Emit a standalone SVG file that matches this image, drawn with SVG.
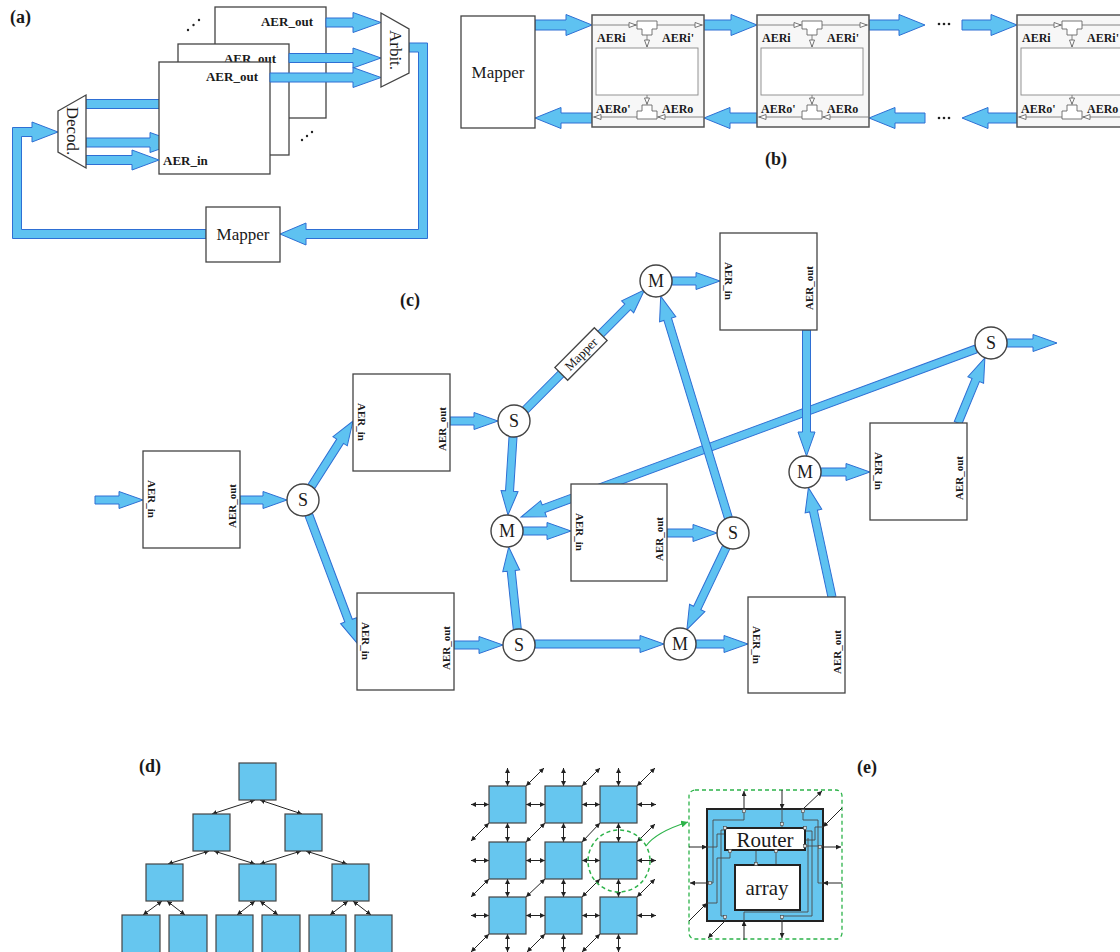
<svg xmlns="http://www.w3.org/2000/svg" width="1120" height="952" viewBox="0 0 1120 952">
<style>
text{font-family:"Liberation Serif","Times New Roman",serif;fill:#1a1a1a}
.pl{font-weight:bold;font-size:18px}
.box{fill:#fff;stroke:#444;stroke-width:1.3}
.blue{fill:#5ec2f1;stroke:#2e6fd4;stroke-width:1}
.la{font-weight:bold;font-size:13px}
.lc{font-weight:bold;font-size:11px;dominant-baseline:central;text-anchor:middle}
.lb{font-weight:bold;font-size:12px}
.big{font-size:17px}
.nd{fill:#fff;stroke:#444;stroke-width:1.4}
.nt{font-size:18px;text-anchor:middle}
.sq{fill:#66c6ef;stroke:#444;stroke-width:1.2}
.ar{stroke:#222;stroke-width:1;fill:none;marker-start:url(#ah);marker-end:url(#ah)}
.ae{stroke:#222;stroke-width:1;fill:none;marker-end:url(#ah)}
.w{stroke:#777;stroke-width:0.9;fill:none}
.hh{fill:#fff;stroke:#666;stroke-width:0.9}
.cell{fill:#f7f7f7;stroke:#555;stroke-width:1.5}
.wire{stroke:#4a4a4a;stroke-width:0.9;fill:none}
.port{fill:#ddd;stroke:#444;stroke-width:0.6}
</style>
<defs>
<marker id="ah" viewBox="0 0 6 6" refX="6" refY="3" markerWidth="5" markerHeight="5" orient="auto-start-reverse" markerUnits="userSpaceOnUse"><path d="M0,0 L6,3 L0,6 Z" fill="#222"/></marker>
<marker id="gh" viewBox="0 0 6 6" refX="6" refY="3" markerWidth="7" markerHeight="7" orient="auto" markerUnits="userSpaceOnUse"><path d="M0,0 L6,3 L0,6 Z" fill="#2db34a"/></marker>
</defs>

<!-- ===== (a) ===== -->
<g id="panel-a">
<text class="pl" x="10" y="23">(a)</text>
<g id="a-box-back"><rect class="box" x="215" y="7" width="111" height="111"/><text class="la" x="313" y="26" text-anchor="end">AER_out</text></g>
<g id="a-conn1"><path class="blue" transform="translate(326,22.5)" d="M0,-4.5H27V-10L55,0L27,10V4.5H0Z"/></g>
<g id="a-decod-top"><rect class="blue" x="86" y="99.5" width="90" height="9"/></g>
<g id="a-decod-mid"><path class="blue" transform="translate(86,142.5)" d="M0,-4.5H64V-10L92,0L64,10V4.5H0Z"/></g>
<g id="a-box-mid"><rect class="box" x="178" y="44" width="111" height="111"/><text class="la" x="276" y="63" text-anchor="end">AER_out</text></g>
<g id="a-conn2"><path class="blue" transform="translate(289,58)" d="M0,-4.5H64V-10L92,0L64,10V4.5H0Z"/></g>
<g id="a-box-front"><rect class="box" x="159" y="62" width="111" height="112"/><text class="la" x="258" y="81" text-anchor="end">AER_out</text><text class="la" x="163" y="165">AER_in</text></g>
<g id="a-conn3"><path class="blue" transform="translate(270,77.5)" d="M0,-4.5H83V-10L111,0L83,10V4.5H0Z"/></g>
<g id="a-decod-bot"><path class="blue" transform="translate(86,160)" d="M0,-4.5H46V-10L73,0L46,10V4.5H0Z"/></g>
<g id="a-loop">
<path class="blue" d="M409,43 H427.5 V238.5 H306 V245 L280,234 L306,223 V229.5 H418.5 V52 H409 Z"/>
<path class="blue" d="M206,229.5 H21.5 V136.5 H32 V142 L58,132 L32,122 V127.5 H12.5 V238.5 H206 Z"/>
</g>
<g id="a-arbit"><path class="box" d="M381,13 L409,29 L409,73 L381,87 Z"/><text class="big" transform="translate(395,50) rotate(90)" text-anchor="middle" dominant-baseline="central">Arbit.</text></g>
<g id="a-decod"><path class="box" d="M58,111 L86,95 L86,168 L58,152 Z"/><text class="big" transform="translate(72,131) rotate(90)" text-anchor="middle" dominant-baseline="central">Decod.</text></g>
<g id="a-mapper"><rect class="box" x="206" y="207" width="74" height="55"/><text class="big" x="243" y="240" text-anchor="middle">Mapper</text></g>
<g id="a-dots" fill="#222"><circle cx="188" cy="30" r="1.2"/><circle cx="193.5" cy="25" r="1.2"/><circle cx="199" cy="20" r="1.2"/><circle cx="302" cy="140" r="1.2"/><circle cx="307" cy="136" r="1.2"/><circle cx="312" cy="132" r="1.2"/></g>
</g>

<!-- ===== (b) ===== -->
<g id="panel-b">
<g id="b-connectors">
<path class="blue" transform="translate(535,25)" d="M0,-5H31V-10.5L57,0L31,10.5V5H0Z"/>
<path class="blue" transform="translate(704,25)" d="M0,-5H27V-10.5L53,0L27,10.5V5H0Z"/>
<path class="blue" transform="translate(869,25)" d="M0,-5H30V-10.5L56,0L30,10.5V5H0Z"/>
<path class="blue" transform="translate(962,25)" d="M0,-5H29V-10.5L55,0L29,10.5V5H0Z"/>
<path class="blue" transform="translate(592,118) rotate(180)" d="M0,-5H31V-10.5L57,0L31,10.5V5H0Z"/>
<path class="blue" transform="translate(757,118) rotate(180)" d="M0,-5H27V-10.5L53,0L27,10.5V5H0Z"/>
<path class="blue" transform="translate(925,118) rotate(180)" d="M0,-5H30V-10.5L56,0L30,10.5V5H0Z"/>
<path class="blue" transform="translate(1017,118) rotate(180)" d="M0,-5H29V-10.5L55,0L29,10.5V5H0Z"/>
</g>
<g id="b-dots" fill="#222"><circle cx="939" cy="24" r="1.3"/><circle cx="944" cy="24" r="1.3"/><circle cx="949" cy="24" r="1.3"/><circle cx="939" cy="118" r="1.3"/><circle cx="944" cy="118" r="1.3"/><circle cx="949" cy="118" r="1.3"/></g>
<g id="b-mapper"><rect class="box" x="461" y="16" width="74" height="112"/><text class="big" x="498" y="78" text-anchor="middle">Mapper</text></g>
<g id="b-cell1" transform="translate(592,0)">
<rect class="cell" x="0" y="15" width="112" height="112"/>
<line class="w" x1="0" y1="25" x2="112" y2="25"/><line class="w" x1="0" y1="117" x2="112" y2="117"/>
<rect x="4" y="48" width="102" height="47" fill="#fff" stroke="#888" stroke-width="0.9"/>
<path class="hh" d="M45,21 H65 V29 H60 V35 H50 V29 H45 Z"/><line class="w" x1="55" y1="35" x2="55" y2="47"/><path class="hh" d="M52.5,40 L57.5,40 L55,47 Z"/>
<path class="hh" d="M50,105 H60 V111 H65 V119 H45 V111 H50 Z"/><line class="w" x1="55" y1="95" x2="55" y2="105"/><path class="hh" d="M52.5,98 L57.5,98 L55,104 Z"/>
<path class="hh" d="M37,22.5 L37,27.5 L44,25 Z"/><path class="hh" d="M103,22.5 L103,27.5 L110,25 Z"/>
<path class="hh" d="M9,114.5 L9,119.5 L2,117 Z"/><path class="hh" d="M73,114.5 L73,119.5 L66,117 Z"/>
<text class="lb" x="5" y="42">AERi</text><text class="lb" x="70" y="42">AERi'</text><text class="lb" x="4" y="113">AERo'</text><text class="lb" x="70" y="113">AERo</text>
</g>
<g id="b-cell2" transform="translate(757,0)">
<rect class="cell" x="0" y="15" width="112" height="112"/>
<line class="w" x1="0" y1="25" x2="112" y2="25"/><line class="w" x1="0" y1="117" x2="112" y2="117"/>
<rect x="4" y="48" width="102" height="47" fill="#fff" stroke="#888" stroke-width="0.9"/>
<path class="hh" d="M45,21 H65 V29 H60 V35 H50 V29 H45 Z"/><line class="w" x1="55" y1="35" x2="55" y2="47"/><path class="hh" d="M52.5,40 L57.5,40 L55,47 Z"/>
<path class="hh" d="M50,105 H60 V111 H65 V119 H45 V111 H50 Z"/><line class="w" x1="55" y1="95" x2="55" y2="105"/><path class="hh" d="M52.5,98 L57.5,98 L55,104 Z"/>
<path class="hh" d="M37,22.5 L37,27.5 L44,25 Z"/><path class="hh" d="M103,22.5 L103,27.5 L110,25 Z"/>
<path class="hh" d="M9,114.5 L9,119.5 L2,117 Z"/><path class="hh" d="M73,114.5 L73,119.5 L66,117 Z"/>
<text class="lb" x="5" y="42">AERi</text><text class="lb" x="70" y="42">AERi'</text><text class="lb" x="4" y="113">AERo'</text><text class="lb" x="70" y="113">AERo</text>
</g>
<g id="b-cell3" transform="translate(1017,0)">
<rect class="cell" x="0" y="15" width="112" height="112"/>
<line class="w" x1="0" y1="25" x2="112" y2="25"/><line class="w" x1="0" y1="117" x2="112" y2="117"/>
<rect x="4" y="48" width="102" height="47" fill="#fff" stroke="#888" stroke-width="0.9"/>
<path class="hh" d="M45,21 H65 V29 H60 V35 H50 V29 H45 Z"/><line class="w" x1="55" y1="35" x2="55" y2="47"/><path class="hh" d="M52.5,40 L57.5,40 L55,47 Z"/>
<path class="hh" d="M50,105 H60 V111 H65 V119 H45 V111 H50 Z"/><line class="w" x1="55" y1="95" x2="55" y2="105"/><path class="hh" d="M52.5,98 L57.5,98 L55,104 Z"/>
<path class="hh" d="M37,22.5 L37,27.5 L44,25 Z"/>
<path class="hh" d="M9,114.5 L9,119.5 L2,117 Z"/><path class="hh" d="M73,114.5 L73,119.5 L66,117 Z"/>
<text class="lb" x="5" y="42">AERi</text><text class="lb" x="70" y="42">AERi'</text><text class="lb" x="4" y="113">AERo'</text><text class="lb" x="70" y="113">AERo</text>
</g>
<text class="pl" x="765" y="165">(b)</text>
</g>

<!-- ===== (c) ===== -->
<g id="panel-c">
<text class="pl" x="400" y="306">(c)</text>
<g id="c-connectors">
<path class="blue" transform="translate(976,349) rotate(159.73)" d="M0,-4H461V-8.5L485,0L461,8.5V4H0Z"/>
<path class="blue" transform="translate(95,500)" d="M0,-4H24V-8.5L48,0L24,8.5V4H0Z"/>
<path class="blue" transform="translate(240,500)" d="M0,-4H23V-8.5L47,0L23,8.5V4H0Z"/>
<path class="blue" transform="translate(311.4,486.4) rotate(-57.54)" d="M0,-4H53.5V-8.5L77.5,0L53.5,8.5V4H0Z"/>
<path class="blue" transform="translate(308.8,514.9) rotate(69.4)" d="M0,-4H113V-8.5L137,0L113,8.5V4H0Z"/>
<path class="blue" transform="translate(450,421)" d="M0,-4H24V-8.5L48,0L24,8.5V4H0Z"/>
<path class="blue" transform="translate(454,645)" d="M0,-4H25V-8.5L49,0L25,8.5V4H0Z"/>
<path class="blue" transform="translate(525.4,409.8) rotate(-45.2)" d="M0,-4H145.1V-8.5L169.1,0L145.1,8.5V4H0Z"/>
<path class="blue" transform="translate(672,281)" d="M0,-4H24V-8.5L48,0L24,8.5V4H0Z"/>
<path class="blue" transform="translate(513,437) rotate(93.67)" d="M0,-4H54.2V-8.5L78.2,0L54.2,8.5V4H0Z"/>
<path class="blue" transform="translate(517.3,629.1) rotate(-95.97)" d="M0,-4H58.6V-8.5L82.6,0L58.6,8.5V4H0Z"/>
<path class="blue" transform="translate(535,644)" d="M0,-4H105V-8.5L129,0L105,8.5V4H0Z"/>
<path class="blue" transform="translate(523,531)" d="M0,-4H24V-8.5L48,0L24,8.5V4H0Z"/>
<path class="blue" transform="translate(667,533)" d="M0,-4H26V-8.5L50,0L26,8.5V4H0Z"/>
<path class="blue" transform="translate(728.3,517.7) rotate(-106.98)" d="M0,-4H207.5V-8.5L231.5,0L207.5,8.5V4H0Z"/>
<path class="blue" transform="translate(726.1,547.4) rotate(115.5)" d="M0,-4H67.1V-8.5L91.1,0L67.1,8.5V4H0Z"/>
<path class="blue" transform="translate(696,644)" d="M0,-4H28V-8.5L52,0L28,8.5V4H0Z"/>
<path class="blue" transform="translate(806.5,330) rotate(90)" d="M0,-4H102V-8.5L126,0L102,8.5V4H0Z"/>
<path class="blue" transform="translate(832,597) rotate(-102.17)" d="M0,-4H87.9V-8.5L111.9,0L87.9,8.5V4H0Z"/>
<path class="blue" transform="translate(821,472)" d="M0,-4H25V-8.5L49,0L25,8.5V4H0Z"/>
<path class="blue" transform="translate(958,423) rotate(-67.58)" d="M0,-4H46.5V-8.5L70.5,0L46.5,8.5V4H0Z"/>
<path class="blue" transform="translate(1007,343)" d="M0,-4H26V-8.5L50,0L26,8.5V4H0Z"/>
</g>
<g id="c-mapper" transform="translate(581,354) rotate(-45.2)"><rect class="box" x="-28" y="-9" width="56" height="18"/><text x="0" y="4.5" font-size="13" text-anchor="middle">Mapper</text></g>
<g id="c-boxA"><rect class="box" x="143" y="451" width="97" height="97"/><text class="lc" transform="translate(152,499) rotate(90)">AER_in</text><text class="lc" transform="translate(232,506) rotate(-90)">AER_out</text></g>
<g id="c-boxB"><rect class="box" x="353" y="374" width="97" height="97"/><text class="lc" transform="translate(362,422) rotate(90)">AER_in</text><text class="lc" transform="translate(442,429) rotate(-90)">AER_out</text></g>
<g id="c-boxC"><rect class="box" x="357" y="593" width="97" height="97"/><text class="lc" transform="translate(366,641) rotate(90)">AER_in</text><text class="lc" transform="translate(446,648) rotate(-90)">AER_out</text></g>
<g id="c-boxD"><rect class="box" x="720" y="233" width="97" height="97"/><text class="lc" transform="translate(729,281) rotate(90)">AER_in</text><text class="lc" transform="translate(809,288) rotate(-90)">AER_out</text></g>
<g id="c-boxE"><rect class="box" x="571" y="484" width="96" height="97"/><text class="lc" transform="translate(580,532) rotate(90)">AER_in</text><text class="lc" transform="translate(659,539) rotate(-90)">AER_out</text></g>
<g id="c-boxF"><rect class="box" x="870" y="423" width="97" height="97"/><text class="lc" transform="translate(879,471) rotate(90)">AER_in</text><text class="lc" transform="translate(959,478) rotate(-90)">AER_out</text></g>
<g id="c-boxG"><rect class="box" x="748" y="597" width="97" height="96"/><text class="lc" transform="translate(757,645) rotate(90)">AER_in</text><text class="lc" transform="translate(837,652) rotate(-90)">AER_out</text></g>
<g id="c-S1"><circle class="nd" cx="303" cy="500" r="16"/><text class="nt" x="303" y="506">S</text></g>
<g id="c-S2"><circle class="nd" cx="514" cy="421" r="16"/><text class="nt" x="514" y="427">S</text></g>
<g id="c-Mtop"><circle class="nd" cx="656" cy="281" r="16"/><text class="nt" x="656" y="287">M</text></g>
<g id="c-Mleft"><circle class="nd" cx="507" cy="531" r="16"/><text class="nt" x="507" y="537">M</text></g>
<g id="c-Smid"><circle class="nd" cx="733" cy="533" r="16"/><text class="nt" x="733" y="539">S</text></g>
<g id="c-Mright"><circle class="nd" cx="805" cy="472" r="16"/><text class="nt" x="805" y="478">M</text></g>
<g id="c-Sfar"><circle class="nd" cx="991" cy="343" r="16"/><text class="nt" x="991" y="349">S</text></g>
<g id="c-Sbot"><circle class="nd" cx="519" cy="645" r="16"/><text class="nt" x="519" y="651">S</text></g>
<g id="c-Mbot"><circle class="nd" cx="680" cy="644" r="16"/><text class="nt" x="680" y="650">M</text></g>
</g>

<!-- ===== (d) ===== -->
<g id="panel-d">
<text class="pl" x="139" y="772">(d)</text>
<g id="d-connectors">
<line class="ar" x1="255" y1="800" x2="212" y2="814"/><line class="ar" x1="260" y1="800" x2="302" y2="814"/>
<line class="ar" x1="209" y1="851" x2="168" y2="864"/><line class="ar" x1="214" y1="851" x2="255" y2="864"/>
<line class="ar" x1="301" y1="851" x2="260" y2="864"/><line class="ar" x1="306" y1="851" x2="347" y2="864"/>
<line class="ar" x1="162" y1="901" x2="143" y2="915"/><line class="ar" x1="167" y1="901" x2="185" y2="915"/>
<line class="ar" x1="255" y1="901" x2="237" y2="915"/><line class="ar" x1="260" y1="901" x2="278" y2="915"/>
<line class="ar" x1="348" y1="901" x2="330" y2="915"/><line class="ar" x1="353" y1="901" x2="371" y2="915"/>
</g>
<g id="d-n0"><rect class="sq" x="239" y="763" width="37" height="37"/></g>
<g id="d-n1a"><rect class="sq" x="193" y="814" width="37" height="37"/></g>
<g id="d-n1b"><rect class="sq" x="285" y="814" width="37" height="37"/></g>
<g id="d-n2a"><rect class="sq" x="146" y="864" width="37" height="37"/></g>
<g id="d-n2b"><rect class="sq" x="239" y="864" width="37" height="37"/></g>
<g id="d-n2c"><rect class="sq" x="332" y="864" width="37" height="37"/></g>
<g id="d-n3a"><rect class="sq" x="122" y="915" width="38" height="40"/></g>
<g id="d-n3b"><rect class="sq" x="169" y="915" width="38" height="40"/></g>
<g id="d-n3c"><rect class="sq" x="216" y="915" width="37" height="40"/></g>
<g id="d-n3d"><rect class="sq" x="262" y="915" width="38" height="40"/></g>
<g id="d-n3e"><rect class="sq" x="309" y="915" width="37" height="40"/></g>
<g id="d-n3f"><rect class="sq" x="355" y="915" width="37" height="40"/></g>
</g>

<!-- ===== (e) grid ===== -->
<g id="panel-e">
<g id="e-connectors">
<line class="ar" x1="507.5" y1="786" x2="507.5" y2="768"/><line class="ar" x1="507.5" y1="823" x2="507.5" y2="842"/><line class="ar" x1="507.5" y1="879" x2="507.5" y2="897"/><line class="ar" x1="507.5" y1="934" x2="507.5" y2="952"/>
<line class="ar" x1="563.5" y1="786" x2="563.5" y2="768"/><line class="ar" x1="563.5" y1="823" x2="563.5" y2="842"/><line class="ar" x1="563.5" y1="879" x2="563.5" y2="897"/><line class="ar" x1="563.5" y1="934" x2="563.5" y2="952"/>
<line class="ar" x1="618.5" y1="786" x2="618.5" y2="768"/><line class="ar" x1="618.5" y1="823" x2="618.5" y2="842"/><line class="ar" x1="618.5" y1="879" x2="618.5" y2="897"/><line class="ar" x1="618.5" y1="934" x2="618.5" y2="952"/>
<line class="ar" x1="489" y1="804.5" x2="471" y2="804.5"/><line class="ar" x1="526" y1="804.5" x2="545" y2="804.5"/><line class="ar" x1="582" y1="804.5" x2="600" y2="804.5"/><line class="ar" x1="637" y1="804.5" x2="656" y2="804.5"/>
<line class="ar" x1="489" y1="860.5" x2="471" y2="860.5"/><line class="ar" x1="526" y1="860.5" x2="545" y2="860.5"/><line class="ar" x1="582" y1="860.5" x2="600" y2="860.5"/><line class="ar" x1="637" y1="860.5" x2="656" y2="860.5"/>
<line class="ar" x1="489" y1="915.5" x2="471" y2="915.5"/><line class="ar" x1="526" y1="915.5" x2="545" y2="915.5"/><line class="ar" x1="582" y1="915.5" x2="600" y2="915.5"/><line class="ar" x1="637" y1="915.5" x2="656" y2="915.5"/>
<line class="ar" x1="526" y1="786" x2="544" y2="768"/><line class="ar" x1="582" y1="786" x2="600" y2="768"/><line class="ar" x1="637" y1="786" x2="655" y2="768"/>
<line class="ar" x1="545" y1="823" x2="526" y2="842"/><line class="ar" x1="600" y1="823" x2="582" y2="842"/><line class="ar" x1="545" y1="879" x2="526" y2="897"/><line class="ar" x1="600" y1="879" x2="582" y2="897"/>
<line class="ar" x1="489" y1="823" x2="471" y2="841"/><line class="ar" x1="489" y1="879" x2="471" y2="897"/><line class="ar" x1="489" y1="934" x2="471" y2="952"/>
<line class="ar" x1="637" y1="842" x2="655" y2="824"/><line class="ar" x1="637" y1="897" x2="655" y2="879"/>
<line class="ar" x1="545" y1="934" x2="527" y2="952"/><line class="ar" x1="600" y1="934" x2="582" y2="952"/>
</g>
<g id="e-g00"><rect class="sq" x="489" y="786" width="37" height="37"/></g>
<g id="e-g01"><rect class="sq" x="545" y="786" width="37" height="37"/></g>
<g id="e-g02"><rect class="sq" x="600" y="786" width="37" height="37"/></g>
<g id="e-g10"><rect class="sq" x="489" y="842" width="37" height="37"/></g>
<g id="e-g11"><rect class="sq" x="545" y="842" width="37" height="37"/></g>
<g id="e-g12"><rect class="sq" x="600" y="842" width="37" height="37"/></g>
<g id="e-g20"><rect class="sq" x="489" y="897" width="37" height="37"/></g>
<g id="e-g21"><rect class="sq" x="545" y="897" width="37" height="37"/></g>
<g id="e-g22"><rect class="sq" x="600" y="897" width="37" height="37"/></g>
<g id="e-zoom"><circle cx="619" cy="861" r="31" fill="none" stroke="#2db34a" stroke-width="1.5" stroke-dasharray="4,3"/><path d="M646,846 Q656,832 688,822" fill="none" stroke="#2db34a" stroke-width="1.2" marker-end="url(#gh)"/></g>

<!-- detail -->
<g id="e-detail">
<rect x="689" y="790" width="153" height="149" rx="6" fill="none" stroke="#2db34a" stroke-width="1.3" stroke-dasharray="4,3"/>
<line class="ae" x1="744" y1="809" x2="744" y2="791"/>
<line class="ae" x1="782" y1="790" x2="782" y2="809"/>
<line class="ae" x1="803" y1="809" x2="822" y2="791"/>
<line class="ae" x1="842" y1="808" x2="823" y2="827"/>
<line class="ae" x1="823" y1="847" x2="841" y2="847"/>
<line class="ae" x1="842" y1="883" x2="823" y2="883"/>
<line class="ae" x1="689" y1="847" x2="707" y2="847"/>
<line class="ae" x1="707" y1="883" x2="690" y2="883"/>
<line class="ae" x1="689" y1="921" x2="707" y2="903"/>
<line class="ae" x1="725" y1="921" x2="708" y2="938"/>
<line class="ae" x1="744" y1="940" x2="744" y2="921"/>
<line class="ae" x1="782" y1="921" x2="782" y2="938"/>
<rect x="707" y="809" width="116" height="112" fill="#66c6ef" stroke="#222" stroke-width="2"/>
<g id="e-wires">
<path class="wire" d="M744,809 V820 H713 V883 H707"/>
<path class="wire" d="M707,847 H717 V834 H725"/>
<path class="wire" d="M725,830 H721 V916 H725 V921"/>
<path class="wire" d="M782,809 V828"/>
<path class="wire" d="M803,809 V820 H818 V883 H823"/>
<path class="wire" d="M805,831 H812 V916 H782 V921"/>
<path class="wire" d="M805,846 H823"/>
<path class="wire" d="M823,827 H815 V840 H805"/>
<path class="wire" d="M756,850 V865"/>
<path class="wire" d="M776,850 V865"/>
<path class="wire" d="M730,850 V858 H717 V903 H707"/>
<path class="wire" d="M744,921 V912 H808 V838"/>
</g>
<g id="e-router"><rect x="725" y="828" width="80" height="22" fill="#fff" stroke="#222" stroke-width="2"/><text x="765" y="847" font-size="21" text-anchor="middle">Router</text></g>
<g id="e-array"><rect x="735" y="865" width="65" height="45" fill="#fff" stroke="#222" stroke-width="2"/><text x="767" y="895" font-size="21" text-anchor="middle">array</text></g>
<g id="e-ports">
<rect class="port" x="742.5" y="809.5" width="3" height="3"/><rect class="port" x="780.5" y="822.5" width="3" height="3"/><rect class="port" x="801.5" y="809.5" width="3" height="3"/>
<rect class="port" x="723.5" y="826.5" width="3" height="3"/><rect class="port" x="803.5" y="826.5" width="3" height="3"/><rect class="port" x="803.5" y="844.5" width="3" height="3"/>
<rect class="port" x="728.5" y="849.5" width="3" height="3"/><rect class="port" x="754.5" y="862.5" width="3" height="3"/><rect class="port" x="774.5" y="849.5" width="3" height="3"/>
<rect class="port" x="708.5" y="881.5" width="3" height="3"/><rect class="port" x="818.5" y="845.5" width="3" height="3"/><rect class="port" x="723.5" y="915.5" width="3" height="3"/><rect class="port" x="780.5" y="915.5" width="3" height="3"/>
</g>
</g>
<text class="pl" x="857" y="773">(e)</text>
</g>
</svg>
